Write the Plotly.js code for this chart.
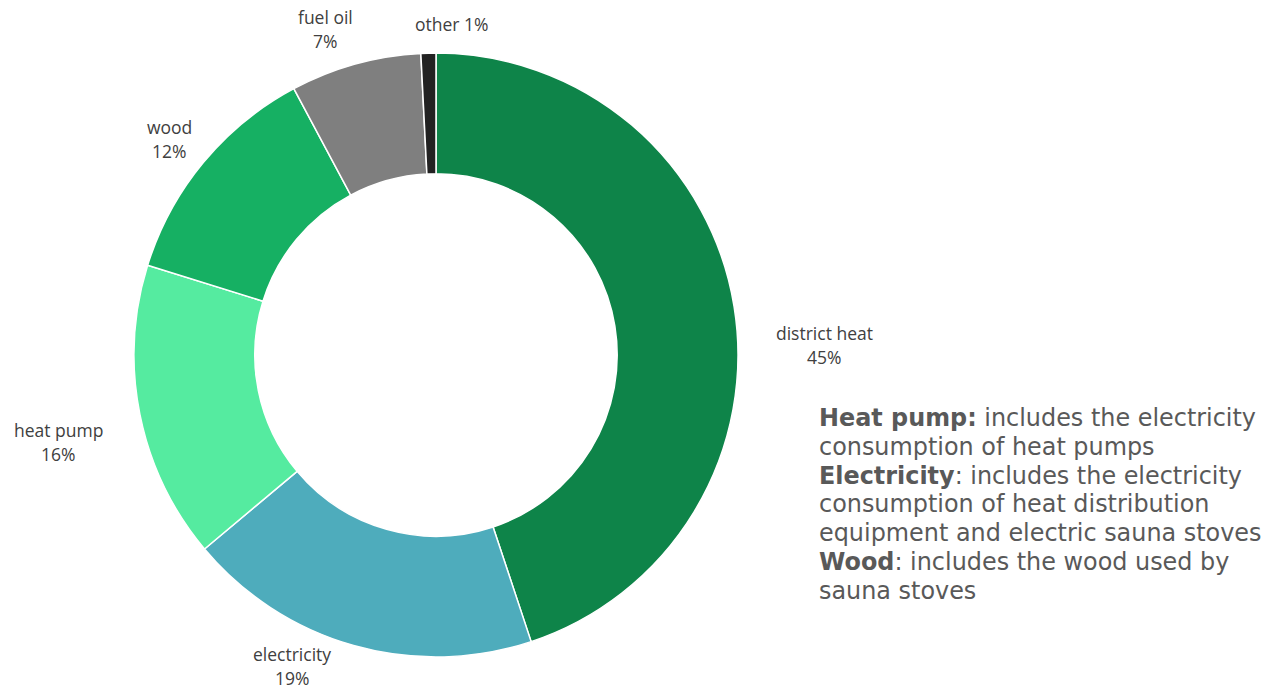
<!DOCTYPE html>
<html>
<head>
<meta charset="utf-8">
<script src="https://cdn.plot.ly/plotly-3.0.1.min.js"></script>
<style>html,body{margin:0;padding:0;background:#fff;}#chart{width:1267px;height:691px;}</style>
</head>
<body>
<div id="chart"></div>
<script>
var categories = ["district heat", "electricity", "heat pump", "wood", "fuel oil", "other"];
var shares = [44.9, 19.0, 15.9, 12.4, 7.0, 0.8];
var colors = ["#0E8449", "#4EACBC", "#55EBA0", "#16B063", "#7F7F7F", "#222222"];
var labelPos = [[824, 333], [292, 654], [58, 430], [169, 127], [325, 17], [452, 24]];
var singleLine = [false, false, false, false, false, true];
var noteLines = [
  "<b>Heat pump:</b> includes the electricity",
  "consumption of heat pumps",
  "<b>Electricity</b>: includes the electricity",
  "consumption of heat distribution",
  "equipment and electric sauna stoves",
  "<b>Wood</b>: includes the wood used by",
  "sauna stoves"
];

var W = 1267, H = 691;
var labelFont = {family: "'Open Sans', Lato, sans-serif", size: 17.5, color: "#404040"};
var total = shares.reduce(function(a,b){return a+b;},0);
var annotations = [];
categories.forEach(function(c, i){
  var pct = Math.round(shares[i] / total * 100) + "%";
  var px = labelPos[i][0], py = labelPos[i][1];
  var lines = singleLine[i] ? [c + " " + pct] : [c, pct];
  lines.forEach(function(t, k){
    annotations.push({
      xref: "paper", yref: "paper",
      x: px / W, y: 1 - (py + k * 24) / H,
      xanchor: "center", yanchor: "middle",
      text: t, showarrow: false, font: labelFont, borderpad: 0
    });
  });
});
noteLines.forEach(function(t, k){
  annotations.push({
    xref: "paper", yref: "paper",
    x: 817 / W, y: 1 - (418 + k * 28.8) / H,
    xanchor: "left", yanchor: "middle", align: "left",
    text: t, showarrow: false,
    font: {family: "'DejaVu Sans', Verdana, sans-serif", size: 23.9, color: "#595959"}
  });
});

var trace = {
  type: "pie",
  labels: categories,
  values: shares,
  hole: 0.6,
  sort: false,
  direction: "clockwise",
  rotation: 0,
  textinfo: "none",
  hoverinfo: "label+percent",
  marker: {colors: colors, line: {color: "#ffffff", width: 1.5}},
  domain: {x: [(436 - 302) / W, (436 + 302) / W], y: [(H - 657) / H, (H - 53) / H]},
  showlegend: false
};

Plotly.newPlot("chart", [trace], {
  width: W, height: H,
  margin: {l: 0, r: 0, t: 0, b: 0},
  paper_bgcolor: "#ffffff",
  showlegend: false,
  annotations: annotations
}, {displayModeBar: false, staticPlot: true});
</script>
</body>
</html>
